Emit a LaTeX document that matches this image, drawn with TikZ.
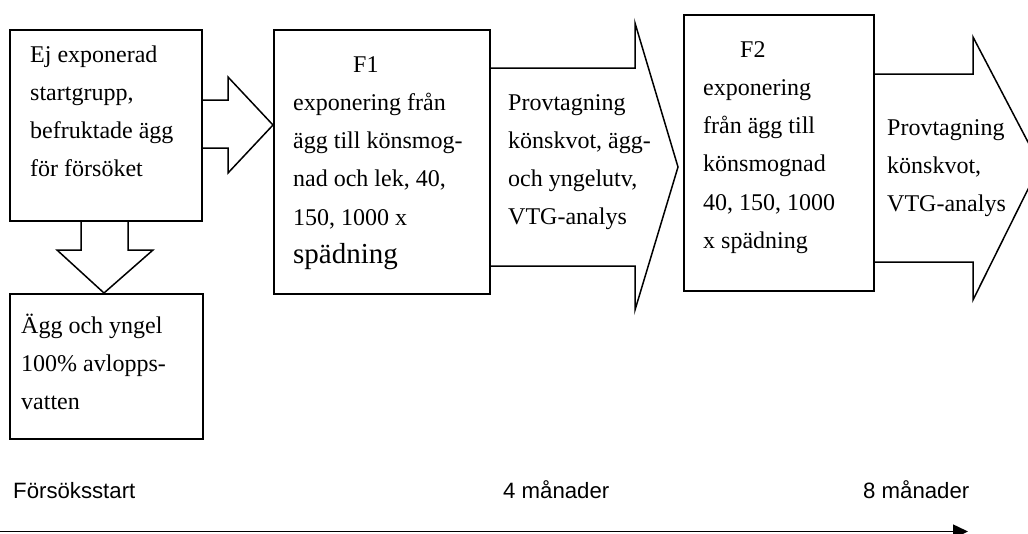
\documentclass[tikz,border=0pt]{standalone}
\usepackage{fontspec}
\setmainfont{Liberation Serif}
\newfontfamily\arialfont{Liberation Sans}
\usetikzlibrary{arrows.meta,calc}
\newcommand{\topstrut}{\rule{0pt}{20pt}}
\begin{document}
\begin{tikzpicture}[x=1pt,y=-1pt,
 box/.style={draw,line width=1.5pt,inner sep=0pt,anchor=north west},
 blk/.style={draw,line width=1.5pt,line join=miter},
 txt/.style={inner sep=0pt,anchor=north west,align=left,font=\fontsize{24}{38.2}\selectfont},
 tl/.style={inner sep=0pt,anchor=base west,font=\arialfont\fontsize{22.2}{26}\selectfont},
 axis/.style={line width=1.5pt,-{Triangle[length=15pt,width=14pt]}}]
\useasboundingbox (0,0) rectangle (1028,533);
% boxes
\node[box,minimum width=192pt,minimum height=191pt] (A) at (9,29) {};
\node[box,minimum width=193pt,minimum height=145pt] (B) at (9,293) {};
\node[box,minimum width=216pt,minimum height=264pt] (F1) at (273,29) {};
\node[box,minimum width=190pt,minimum height=276pt] (F2) at (683,14) {};
% block arrows
\draw[blk] (A.east |- 0,100) -- (228,100) -- (228,77) -- (F1.west |- 0,125) -- (228,173) -- (228,148) -- (A.east |- 0,148);
\draw[blk] (81,0 |- A.south) -- (81,250) -- (57,250) -- (104,0 |- B.north) -- (153,250) -- (128,250) -- (128,0 |- A.south);
\coordinate (tip1) at (678,167);
\draw[blk] (F1.east |- 0,68) -- (635,68) -- (635,23) -- (tip1) -- (635,310) -- (635,266) -- (F1.east |- 0,266);
\coordinate (tip2) at (1040,165);
\draw[blk] (F2.east |- 0,74) -- (973,74) -- (973,37) -- (tip2) -- (973,300) -- (973,262) -- (F2.east |- 0,262);
% texts
\node[txt] (tA) at (30,42) {\topstrut Ej exponerad\\startgrupp,\\befruktade ägg\\för försöket};
\node[txt] (tB) at (21,313) {\topstrut Ägg och yngel\\100\% avlopps-\\vatten};
\node[txt] (tF1) at (293,52) {\topstrut\hspace*{60pt}F1\\exponering från\\ägg till könsmog-\\nad och lek, 40,\\150, 1000 x\\{\fontsize{29}{37}\selectfont spädning}};
\node[txt] (tP1) at (508,90) {\topstrut Provtagning\\könskvot, ägg-\\och yngelutv,\\VTG-analys};
\node[txt] (tF2) at (703,37) {\topstrut\hspace*{37pt}F2\\exponering\\från ägg till\\könsmognad\\40, 150, 1000\\x spädning};
\node[txt] (tP2) at (887,115) {\topstrut Provtagning\\könskvot,\\VTG-analys};
% timeline
\node[tl] (s0) at (13,498) {Försöksstart};
\node[tl] (s4) at (503,498) {4 månader};
\node[tl] (s8) at (863,498) {8 månader};
\coordinate (t0) at (0,531.5);
\coordinate (t1) at (968,531.5);
\draw[axis] (t0) -- (t1);
\end{tikzpicture}
\end{document}
